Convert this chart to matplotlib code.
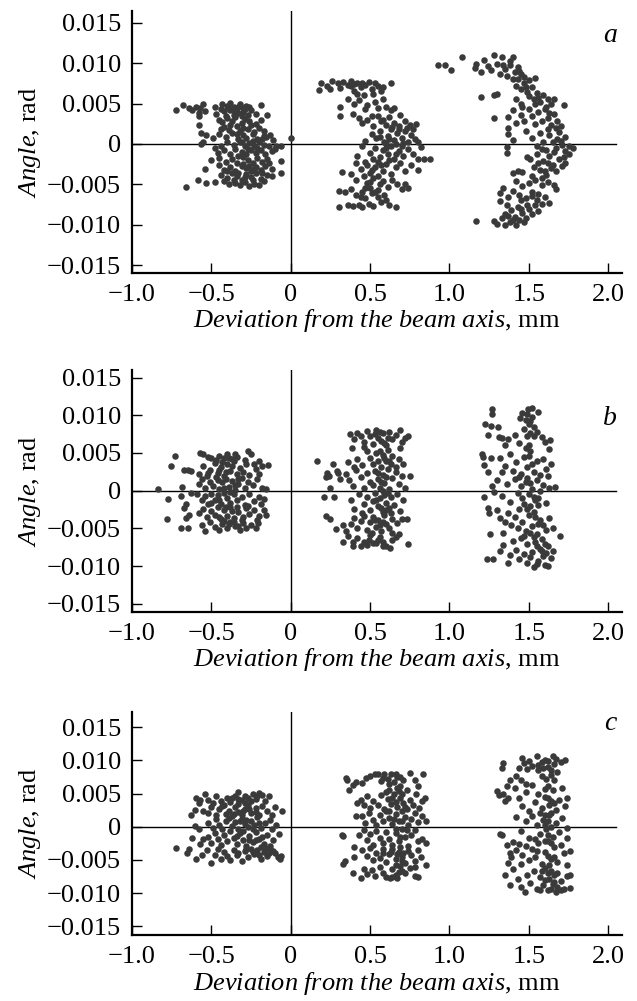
import numpy as np
import matplotlib.pyplot as plt
from matplotlib.ticker import FixedLocator, FixedFormatter

plt.rcParams['font.family'] = ['Liberation Serif', 'DejaVu Serif']
plt.rcParams['mathtext.fontset'] = 'custom'
plt.rcParams['mathtext.rm'] = 'Liberation Serif'
plt.rcParams['mathtext.it'] = 'Liberation Serif:italic'

# ===============================
# Points: (deviation mm, angle mrad)
# ===============================
# panel a
A1 = [(-0.68, 4.8), (-0.64, 4.5), (-0.595, 4.6), (-0.57, 4.4), (-0.55, 5.0), (-0.48, 4.6), (-0.43, 5.0),
      (-0.40, 4.7), (-0.385, 5.1), (-0.36, 4.6), (-0.34, 4.4), (-0.32, 4.9), (-0.30, 4.5), (-0.28, 4.7), (-0.19, 4.8),
      (-0.725, 4.2), (-0.62, 4.2), (-0.58, 3.8), (-0.54, 4.1), (-0.47, 3.7), (-0.42, 4.1), (-0.38, 4.2), (-0.35, 3.9),
      (-0.33, 3.8), (-0.30, 4.0), (-0.27, 3.6), (-0.25, 4.2), (-0.22, 3.7), (-0.15, 3.6),
      (-0.58, 3.4), (-0.45, 3.0), (-0.43, 2.7), (-0.40, 3.2), (-0.37, 2.8), (-0.35, 3.3), (-0.31, 2.6), (-0.29, 3.1),
      (-0.26, 2.8), (-0.22, 2.5), (-0.19, 3.0),
      (-0.575, 2.3), (-0.42, 2.1), (-0.39, 1.7), (-0.34, 2.2), (-0.32, 1.6), (-0.30, 2.0), (-0.27, 1.8), (-0.25, 2.3),
      (-0.23, 1.5), (-0.20, 2.0), (-0.17, 1.6),
      (-0.565, 1.3), (-0.535, 1.1), (-0.49, 0.7), (-0.45, 1.2), (-0.41, 0.9), (-0.37, 1.3), (-0.33, 0.6), (-0.30, 1.1),
      (-0.28, 0.8), (-0.24, 1.2), (-0.21, 0.6), (-0.17, 1.0), (-0.154, 0.9), (-0.13, 1.1), (-0.11, 0.5), (0.004, 0.8),
      (-0.565, 0.0), (-0.55, 0.3), (-0.44, -0.2), (-0.40, 0.2), (-0.36, -0.1), (-0.32, 0.3), (-0.29, -0.3), (-0.26, 0.1),
      (-0.23, -0.2), (-0.20, 0.2), (-0.17, -0.1), (-0.14, -0.3), (-0.09, -0.3), (-0.063, -0.2),
      (-0.46, -1.1), (-0.42, -0.7), (-0.38, -1.2), (-0.35, -0.6), (-0.31, -1.0), (-0.28, -1.3), (-0.25, -0.7),
      (-0.22, -1.1), (-0.19, -0.8), (-0.16, -1.2), (-0.12, -0.9), (-0.10, -0.6),
      (-0.50, -2.0), (-0.45, -1.7), (-0.41, -2.2), (-0.37, -1.8), (-0.34, -2.3), (-0.30, -1.6), (-0.27, -2.0),
      (-0.24, -2.4), (-0.21, -1.7), (-0.18, -2.2), (-0.15, -1.9), (-0.063, -2.1),
      (-0.54, -3.1), (-0.45, -2.6), (-0.42, -3.2), (-0.38, -2.8), (-0.35, -3.3), (-0.31, -2.7), (-0.28, -3.0),
      (-0.25, -3.4), (-0.22, -2.8), (-0.19, -3.2), (-0.16, -2.7), (-0.12, -3.1),
      (-0.585, -4.45), (-0.44, -3.8), (-0.40, -4.2), (-0.37, -3.6), (-0.34, -4.0), (-0.31, -4.4), (-0.28, -3.7),
      (-0.25, -4.1), (-0.22, -3.6), (-0.19, -4.3), (-0.15, -3.8), (-0.12, -4.0), (-0.063, -3.6),
      (-0.66, -5.3), (-0.535, -4.8), (-0.48, -4.7), (-0.42, -4.6), (-0.39, -5.0), (-0.35, -4.8), (-0.32, -5.1),
      (-0.29, -4.7), (-0.26, -5.2), (-0.23, -4.9), (-0.20, -5.1), (-0.17, -4.6),
      (-0.44, 4.3), (-0.41, 3.5), (-0.39, 4.5), (-0.36, 3.6), (-0.33, 4.6), (-0.31, 3.4), (-0.29, 4.3), (-0.26, 4.6),
      (-0.38, 2.4), (-0.34, 1.2), (-0.31, 0.2), (-0.27, -0.6), (-0.24, 0.4), (-0.21, -0.5), (-0.18, 0.6),
      (-0.33, -1.5), (-0.30, -2.5), (-0.26, -2.7), (-0.23, -3.1), (-0.33, -3.6), (-0.29, -4.1), (-0.24, -4.5),
      (-0.36, -4.4), (-0.40, -3.4), (-0.18, -3.6), (-0.14, -2.3), (-0.44, 1.8), (-0.48, -0.5)]

A2 = [(0.18, 6.7), (0.19, 7.6), (0.23, 7.2), (0.25, 6.8), (0.26, 7.8), (0.30, 7.5), (0.31, 6.9), (0.33, 7.7),
      (0.36, 7.3), (0.38, 7.8), (0.40, 6.6), (0.42, 7.6), (0.44, 7.1), (0.47, 7.3), (0.49, 7.7), (0.51, 6.8),
      (0.53, 7.5), (0.55, 7.2), (0.57, 6.6), (0.58, 7.0), (0.63, 7.6), (0.42, 6.2), (0.46, 6.0), (0.52, 6.2),
      (0.31, 4.6), (0.36, 5.6), (0.40, 5.0), (0.43, 5.4), (0.48, 4.8), (0.53, 5.2), (0.55, 4.5), (0.58, 5.6),
      (0.60, 4.6), (0.63, 4.2), (0.65, 4.5),
      (0.31, 3.4), (0.39, 3.7), (0.43, 3.2), (0.45, 2.6), (0.48, 3.0), (0.52, 2.2), (0.55, 3.5), (0.57, 2.8),
      (0.60, 2.4), (0.62, 3.3), (0.65, 2.6), (0.68, 2.2), (0.69, 3.6), (0.72, 2.8), (0.75, 2.3), (0.79, 2.5), (0.77, 1.9),
      (0.47, 0.4), (0.51, 1.2), (0.54, 0.7), (0.56, 1.6), (0.59, 0.3), (0.61, 1.0), (0.63, 1.8), (0.65, 0.5),
      (0.67, 1.3), (0.70, 0.8), (0.72, 1.6), (0.74, 0.3), (0.76, 1.1), (0.78, 0.6), (0.80, 0.2), (0.60, 0.0), (0.66, 0.0),
      (0.45, -0.3), (0.50, -1.1), (0.53, -0.5), (0.56, -1.6), (0.58, -0.8), (0.61, -1.3), (0.63, -0.3), (0.65, -1.8),
      (0.68, -0.9), (0.71, -1.5), (0.74, -0.6), (0.77, -1.2), (0.80, -1.8), (0.84, -1.9), (0.88, -1.9), (0.82, -0.4),
      (0.42, -1.5),
      (0.32, -3.5), (0.38, -3.7), (0.41, -2.4), (0.44, -3.1), (0.47, -2.2), (0.50, -3.6), (0.53, -2.8), (0.55, -2.2),
      (0.58, -3.3), (0.60, -2.5), (0.63, -3.7), (0.66, -2.9), (0.69, -2.3), (0.72, -3.4), (0.76, -2.6), (0.80, -3.2),
      (0.55, -3.9),
      (0.305, -5.8), (0.34, -5.9), (0.38, -5.6), (0.41, -4.5), (0.45, -5.9), (0.48, -4.8), (0.50, -5.4), (0.52, -4.2),
      (0.55, -5.7), (0.58, -4.6), (0.61, -5.3), (0.64, -4.4), (0.67, -5.0), (0.70, -5.6), (0.72, -4.9), (0.74, -5.5),
      (0.305, -7.8), (0.36, -7.5), (0.39, -7.7), (0.41, -6.3), (0.43, -7.6), (0.45, -7.8), (0.47, -6.7), (0.49, -7.4),
      (0.51, -6.1), (0.52, -7.7), (0.55, -6.6), (0.57, -7.2), (0.59, -6.3), (0.62, -7.5), (0.66, -7.8), (0.60, -6.9),
      (0.56, 0.9), (0.62, 0.6), (0.68, 1.8), (0.71, 0.1), (0.73, 2.0), (0.64, 2.1), (0.60, -0.5), (0.66, -1.3),
      (0.70, -0.3), (0.52, -1.8), (0.48, -2.6), (0.51, -3.2), (0.57, -2.6), (0.62, -2.0), (0.46, -4.0), (0.50, -4.7),
      (0.56, -5.0), (0.47, -5.4), (0.44, -6.5), (0.53, -6.0), (0.58, 3.0), (0.51, 3.4), (0.47, 4.3), (0.38, 7.2),
      (0.45, 7.6), (0.40, 7.4)]

A3 = [(0.93, 9.8), (0.97, 9.8), (1.01, 9.1), (1.08, 10.8), (1.16, 9.35), (1.17, 9.9), (1.20, 8.9), (1.22, 10.4),
      (1.24, 9.6), (1.26, 9.2), (1.28, 11.0), (1.30, 9.9), (1.32, 8.7), (1.33, 10.8), (1.35, 9.3), (1.36, 8.4),
      (1.38, 9.8), (1.40, 10.8), (1.41, 8.9), (1.43, 9.5), (1.45, 8.6), (1.47, 8.3), (1.40, 8.0), (1.43, 8.0),
      (1.20, 5.8), (1.28, 6.0), (1.30, 6.2), (1.42, 7.2), (1.45, 6.8), (1.47, 7.5), (1.49, 6.4), (1.50, 5.9),
      (1.52, 7.0), (1.53, 5.6), (1.55, 6.3), (1.42, 5.5), (1.45, 5.0), (1.57, 5.2), (1.59, 6.0), (1.62, 5.5),
      (1.64, 4.9), (1.66, 5.6), (1.72, 4.8), (1.50, 7.9), (1.54, 8.1),
      (1.28, 3.2), (1.37, 3.3), (1.40, 4.2), (1.42, 2.6), (1.45, 3.6), (1.47, 2.9), (1.50, 4.3), (1.52, 3.4),
      (1.54, 2.5), (1.56, 3.9), (1.58, 2.8), (1.60, 4.3), (1.62, 3.2), (1.64, 2.4), (1.66, 3.7), (1.68, 2.9),
      (1.70, 2.2), (1.37, 2.0),
      (1.36, -0.33), (1.37, 1.2), (1.40, 0.5), (1.48, 1.6), (1.52, 0.8), (1.55, -0.2), (1.57, 1.4), (1.59, 0.3),
      (1.61, -0.8), (1.63, 1.1), (1.65, 0.2), (1.67, -0.5), (1.69, 1.5), (1.71, -0.1), (1.73, 0.9), (1.75, -0.3),
      (1.78, -0.5), (1.62, 1.9), (1.58, -0.6), (1.68, 0.6),
      (1.36, -1.15), (1.40, -3.6), (1.43, -3.3), (1.46, -3.5), (1.49, -1.6), (1.51, -1.9), (1.53, -2.8), (1.55, -1.3),
      (1.57, -3.2), (1.59, -2.1), (1.61, -3.8), (1.63, -1.5), (1.65, -2.6), (1.67, -3.3), (1.69, -1.8), (1.71, -2.7),
      (1.73, -2.4), (1.75, -1.2), (1.56, -2.4), (1.64, -3.0),
      (1.32, -6.1), (1.34, -5.5), (1.37, -6.5), (1.40, -5.8), (1.42, -4.6), (1.44, -6.3), (1.46, -5.2), (1.48, -6.7),
      (1.50, -4.8), (1.52, -5.9), (1.54, -4.4), (1.56, -6.2), (1.58, -5.1), (1.60, -6.6), (1.62, -4.7), (1.63, -7.3),
      (1.66, -5.1), (1.67, -5.6), (1.55, -6.9), (1.45, -6.9),
      (1.17, -9.5), (1.28, -9.5), (1.30, -9.9), (1.33, -9.2), (1.35, -8.6), (1.36, -7.6), (1.38, -9.6), (1.39, -8.2),
      (1.41, -9.0), (1.42, -10.0), (1.43, -7.8), (1.44, -9.4), (1.46, -8.5), (1.48, -9.1), (1.50, -8.0), (1.52, -8.7),
      (1.54, -7.6), (1.56, -8.3), (1.58, -7.4), (1.32, -7.1), (1.35, -10.0),
      (1.34, 9.8), (1.38, 10.3), (1.44, 9.0), (1.48, 7.0), (1.56, 5.7), (1.61, 4.6), (1.63, 3.8), (1.67, 2.0),
      (1.70, 0.4), (1.66, -1.0), (1.72, -1.6), (1.60, -3.3), (1.62, -2.4), (1.58, -4.2), (1.52, -6.4), (1.49, -7.5),
      (1.45, -8.0), (1.40, -9.4), (1.37, -8.9), (1.47, -9.7), (1.52, -4.0), (1.46, 4.6), (1.54, 4.9), (1.73, -0.9)]

# panel b
B1 = [(-0.835, 0.2), (-0.78, -3.8), (-0.77, -1.15), (-0.755, 3.3), (-0.73, 4.6), (-0.69, -4.9), (-0.69, -0.7),
      (-0.685, 0.45), (-0.67, 2.8), (-0.65, 2.7), (-0.63, 2.6), (-0.67, -2.3), (-0.65, -4.9), (-0.627, -0.27),
      (-0.66, -3.6), (-0.64, -3.2), (-0.66, -1.7),
      (-0.574, 5.0), (-0.55, 4.8), (-0.52, 4.5), (-0.50, 4.3), (-0.45, 4.6), (-0.42, 4.4), (-0.40, 4.9), (-0.37, 4.2),
      (-0.35, 4.9), (-0.27, 5.2), (-0.25, 4.8), (-0.29, 4.1), (-0.20, 3.9), (-0.23, 3.5), (-0.143, 3.4),
      (-0.58, 2.2), (-0.55, 3.3), (-0.53, 1.9), (-0.51, 2.8), (-0.48, 3.7), (-0.46, 2.3), (-0.44, 3.1), (-0.42, 2.0),
      (-0.40, 3.5), (-0.38, 2.6), (-0.36, 3.9), (-0.34, 2.2), (-0.32, 3.0), (-0.30, 2.5), (-0.28, 3.6), (-0.26, 2.1),
      (-0.22, 2.9), (-0.20, 2.2), (-0.18, 3.3),
      (-0.58, 0.9), (-0.56, 1.6), (-0.54, 0.3), (-0.51, 1.2), (-0.49, 0.6), (-0.47, 1.8), (-0.45, 0.2), (-0.43, 1.1),
      (-0.41, 1.6), (-0.39, 0.5), (-0.37, 1.3), (-0.35, 0.1), (-0.33, 0.9), (-0.31, 1.7), (-0.29, 0.4), (-0.27, 1.2),
      (-0.24, 0.7), (-0.21, 1.5), (-0.18, 0.3), (-0.154, 0.2),
      (-0.59, -0.5), (-0.56, -1.3), (-0.54, -0.7), (-0.52, -1.8), (-0.50, -0.4), (-0.48, -1.2), (-0.46, -0.6),
      (-0.44, -1.7), (-0.42, -0.3), (-0.40, -1.0), (-0.38, -1.6), (-0.36, -0.5), (-0.34, -1.3), (-0.31, -0.8),
      (-0.29, -1.9), (-0.26, -0.4), (-0.23, -1.4), (-0.20, -0.9), (-0.17, -1.1), (-0.19, -1.8),
      (-0.58, -3.0), (-0.55, -2.4), (-0.53, -3.5), (-0.50, -2.7), (-0.48, -3.2), (-0.46, -2.2), (-0.44, -3.8),
      (-0.42, -2.6), (-0.40, -3.3), (-0.38, -2.1), (-0.36, -3.6), (-0.33, -2.8), (-0.31, -3.9), (-0.28, -2.3),
      (-0.26, -3.1), (-0.23, -2.6), (-0.20, -3.4), (-0.17, -2.5), (-0.154, -3.2), (-0.21, -3.9),
      (-0.56, -4.5), (-0.54, -5.3), (-0.51, -4.2), (-0.48, -4.8), (-0.45, -5.2), (-0.43, -4.4), (-0.40, -4.9),
      (-0.38, -4.1), (-0.35, -4.7), (-0.32, -5.2), (-0.30, -4.3), (-0.28, -5.0), (-0.25, -4.6), (-0.22, -5.0),
      (-0.206, -4.3), (-0.42, -4.0),
      (-0.47, 4.1), (-0.43, 3.8), (-0.39, 4.3), (-0.34, 4.5), (-0.45, 2.8), (-0.41, 2.5), (-0.37, 3.3), (-0.33, 1.5),
      (-0.46, 1.4), (-0.42, 0.3), (-0.38, -0.2), (-0.35, 0.8), (-0.45, -1.3), (-0.41, -2.1), (-0.37, -2.7),
      (-0.34, -2.2), (-0.45, -3.5), (-0.39, -4.4), (-0.36, -4.2), (-0.33, -4.7), (-0.30, -3.5), (-0.27, -2.0),
      (-0.50, -1.6), (-0.52, 2.4)]

B2 = [(0.166, 4.0), (0.208, -0.9), (0.225, -3.4), (0.25, -3.7), (0.23, 2.4), (0.22, 1.8), (0.24, 2.0), (0.267, 3.6),
      (0.246, 0.3), (0.288, -5.1), (0.33, -6.8), (0.33, -4.6), (0.27, -0.9), (0.30, 2.3), (0.31, 1.6), (0.29, 2.6),
      (0.372, 7.5), (0.383, 5.6), (0.40, 6.9), (0.42, 7.7), (0.44, 7.2), (0.46, 6.5), (0.48, 7.9), (0.50, 7.3),
      (0.52, 6.2), (0.54, 8.05), (0.55, 7.0), (0.57, 6.6), (0.58, 7.6), (0.60, 6.0), (0.62, 7.8), (0.64, 6.8),
      (0.66, 7.4), (0.688, 8.05), (0.70, 6.4), (0.74, 7.3), (0.72, 7.0),
      (0.36, 3.8), (0.42, 4.2), (0.45, 3.4), (0.48, 5.3), (0.50, 4.4), (0.52, 3.6), (0.54, 5.0), (0.55, 4.0),
      (0.57, 3.2), (0.58, 4.7), (0.60, 3.9), (0.61, 5.4), (0.63, 3.5), (0.64, 4.6), (0.66, 3.1), (0.68, 4.2),
      (0.71, 3.6), (0.69, 5.6), (0.46, 5.8), (0.40, 3.2),
      (0.35, 2.2), (0.37, 1.4), (0.39, 0.6), (0.41, 2.7), (0.44, 1.8), (0.46, 0.3), (0.48, 2.3), (0.50, 1.2),
      (0.52, 0.7), (0.53, 2.6), (0.55, 1.6), (0.56, 0.4), (0.58, 2.1), (0.59, 1.0), (0.61, 2.9), (0.62, 0.2),
      (0.64, 1.7), (0.66, 2.5), (0.68, 0.9), (0.70, 1.9), (0.75, 1.9), (0.72, 0.3),
      (0.38, -1.2), (0.40, -2.4), (0.43, -0.5), (0.46, -1.8), (0.48, -0.8), (0.50, -2.6), (0.52, -1.4), (0.53, -0.3),
      (0.55, -2.0), (0.56, -1.0), (0.58, -2.8), (0.59, -0.6), (0.60, -1.6), (0.62, -2.3), (0.63, -0.9), (0.65, -1.9),
      (0.67, -0.4), (0.69, -2.7), (0.71, -1.2), (0.45, -2.9),
      (0.38, -4.4), (0.40, -3.6), (0.42, -5.0), (0.44, -4.0), (0.46, -3.3), (0.48, -5.2), (0.50, -4.2), (0.52, -3.5),
      (0.54, -4.8), (0.55, -3.9), (0.57, -5.3), (0.59, -3.2), (0.60, -4.4), (0.62, -5.0), (0.64, -3.7), (0.67, -4.3),
      (0.70, -3.8), (0.73, -3.7), (0.35, -5.3),
      (0.36, -6.0), (0.393, -6.8), (0.39, -7.4), (0.42, -6.3), (0.44, -7.4), (0.46, -6.8), (0.48, -7.2), (0.50, -5.9),
      (0.52, -6.9), (0.54, -7.0), (0.56, -6.2), (0.58, -6.8), (0.60, -7.3), (0.625, -7.65), (0.64, -6.6),
      (0.66, -6.1), (0.74, -7.1), (0.68, -5.8),
      (0.53, 7.5), (0.56, 7.8), (0.59, 6.3), (0.61, 7.0), (0.56, 5.2), (0.59, 4.4), (0.62, 4.0), (0.55, 2.4),
      (0.57, 1.2), (0.60, 1.8), (0.58, 0.0), (0.61, -0.3), (0.54, -1.3), (0.57, -2.3), (0.60, -2.6), (0.53, -3.9),
      (0.56, -4.6), (0.58, -4.1), (0.51, -5.6), (0.55, -6.6), (0.58, -7.4), (0.63, -2.9), (0.64, -5.6), (0.49, -6.6)]

B3 = [(1.203, 4.9), (1.21, 4.5), (1.22, 3.4), (1.24, 2.5), (1.22, -0.8), (1.24, -2.3), (1.25, -3.0), (1.255, -5.75),
      (1.235, -9.0), (1.277, -9.1), (1.266, 10.9), (1.27, 10.2), (1.224, 8.8), (1.26, 8.6), (1.308, 8.5), (1.24, 7.4),
      (1.31, 7.1), (1.33, 7.0), (1.26, 4.3), (1.27, 0.6), (1.28, -0.2),
      (1.445, 9.7), (1.46, 10.3), (1.497, 10.9), (1.517, 11.0), (1.56, 10.5), (1.48, 9.4), (1.50, 8.9), (1.52, 9.8),
      (1.47, 8.2), (1.51, 7.6), (1.53, 8.4), (1.55, 7.8), (1.49, 7.3), (1.58, 7.1), (1.41, 7.4), (1.37, 6.8),
      (1.60, 6.5), (1.634, 6.7), (1.63, 5.5), (1.44, 6.3), (1.50, 6.0), (1.35, 6.0),
      (1.32, 4.4), (1.35, 3.3), (1.38, 4.8), (1.40, 2.6), (1.42, 3.8), (1.45, 2.2), (1.47, 4.5), (1.49, 3.1),
      (1.51, 5.2), (1.53, 2.5), (1.55, 3.9), (1.57, 2.1), (1.59, 4.2), (1.61, 2.9), (1.64, 3.6), (1.62, 1.9),
      (1.33, 2.5),
      (1.30, 1.4), (1.33, -0.7), (1.36, 0.9), (1.38, -1.5), (1.41, 1.6), (1.43, -0.3), (1.45, 0.6), (1.47, -1.8),
      (1.48, 1.2), (1.50, -0.5), (1.52, 0.2), (1.54, -1.2), (1.55, 1.4), (1.57, -0.1), (1.59, 0.8), (1.61, -1.6),
      (1.63, 0.4), (1.666, 0.5), (1.46, -1.0), (1.56, -1.9),
      (1.30, -2.6), (1.32, -3.6), (1.35, -4.2), (1.37, -3.0), (1.39, -4.6), (1.41, -3.5), (1.43, -5.0), (1.44, -2.4),
      (1.46, -4.1), (1.48, -5.4), (1.50, -3.2), (1.52, -4.7), (1.53, -2.8), (1.55, -5.8), (1.57, -3.9), (1.59, -4.5),
      (1.61, -5.2), (1.63, -3.6), (1.65, -4.9), (1.697, -6.0), (1.34, -5.6),
      (1.37, -9.6), (1.32, -8.0), (1.34, -7.2), (1.38, -8.5), (1.40, -6.7), (1.42, -7.9), (1.44, -9.0), (1.45, -6.3),
      (1.47, -8.4), (1.487, -9.65), (1.49, -7.1), (1.51, -8.8), (1.53, -10.1), (1.54, -6.8), (1.56, -9.3),
      (1.57, -7.7), (1.59, -8.6), (1.60, -9.9), (1.62, -10.0), (1.62, -7.4), (1.64, -8.9), (1.65, -8.0), (1.58, -6.4),
      (1.49, 10.2), (1.51, 9.3), (1.53, 7.2), (1.48, 5.6), (1.50, 4.6), (1.52, 3.6), (1.49, 1.7), (1.51, 1.0),
      (1.53, -0.9), (1.49, -2.4), (1.51, -2.0), (1.54, -3.5), (1.56, -4.4), (1.51, -5.6), (1.53, -6.2), (1.55, -7.3),
      (1.52, -8.1), (1.58, -8.0), (1.60, -7.1), (1.61, -8.3), (1.55, -9.7), (1.47, -6.0), (1.56, -1.0), (1.44, 1.8)]

# panel c
C1 = [(-0.725, -3.2), (-0.654, -3.9), (-0.64, -3.3), (-0.63, 1.7), (-0.62, -1.65), (-0.605, 0.1), (-0.595, 4.4),
      (-0.58, 3.5), (-0.57, 4.0), (-0.543, 4.9), (-0.595, -4.9), (-0.56, -4.3), (-0.60, 2.5), (-0.58, -0.4),
      (-0.57, -2.6), (-0.55, -1.8), (-0.55, 2.4),
      (-0.52, 4.0), (-0.49, 3.6), (-0.47, 4.6), (-0.44, 3.9), (-0.42, 3.3), (-0.40, 4.4), (-0.38, 3.7), (-0.35, 4.7),
      (-0.33, 5.3), (-0.31, 4.0), (-0.29, 3.5), (-0.27, 4.3), (-0.24, 5.0), (-0.22, 4.2), (-0.20, 5.1), (-0.18, 4.8),
      (-0.16, 3.9), (-0.14, 4.6),
      (-0.52, 2.0), (-0.50, 2.9), (-0.47, 1.7), (-0.45, 2.6), (-0.43, 3.1), (-0.41, 1.9), (-0.39, 2.4), (-0.37, 1.6),
      (-0.35, 3.0), (-0.33, 2.2), (-0.31, 1.8), (-0.29, 2.7), (-0.27, 3.2), (-0.25, 2.0), (-0.22, 2.8), (-0.20, 1.7),
      (-0.18, 3.1), (-0.15, 2.4), (-0.12, 1.7), (-0.053, 2.4), (-0.10, 2.9),
      (-0.52, 0.6), (-0.49, -0.2), (-0.47, 1.1), (-0.45, 0.3), (-0.43, -0.4), (-0.41, 0.8), (-0.39, 1.3), (-0.37, 0.1),
      (-0.35, 0.7), (-0.33, -0.3), (-0.31, 1.2), (-0.29, 0.4), (-0.27, -0.1), (-0.25, 0.9), (-0.23, 0.3), (-0.21, 1.4),
      (-0.19, -0.2), (-0.16, 0.6), (-0.13, 1.0), (-0.09, 0.3), (-0.12, -0.4),
      (-0.52, -1.5), (-0.50, -2.5), (-0.48, -0.9), (-0.46, -1.9), (-0.44, -2.8), (-0.42, -1.2), (-0.40, -2.2),
      (-0.38, -0.7), (-0.36, -1.7), (-0.34, -2.6), (-0.32, -1.0), (-0.30, -2.0), (-0.28, -2.9), (-0.26, -1.4),
      (-0.24, -2.3), (-0.22, -0.8), (-0.20, -1.8), (-0.17, -2.6), (-0.15, -1.2), (-0.11, -2.0), (-0.074, -1.15),
      (-0.13, -2.9),
      (-0.53, -3.5), (-0.50, -5.4), (-0.48, -4.2), (-0.46, -3.3), (-0.44, -4.8), (-0.42, -3.8), (-0.40, -4.4),
      (-0.38, -5.0), (-0.36, -3.5), (-0.34, -4.3), (-0.31, -5.1), (-0.29, -3.7), (-0.27, -4.6), (-0.25, -3.3),
      (-0.23, -4.1), (-0.21, -3.5), (-0.19, -4.9), (-0.17, -3.8), (-0.15, -4.4), (-0.13, -3.4), (-0.10, -4.0),
      (-0.07, -4.9), (-0.08, -4.6), (-0.06, -4.4), (-0.11, -3.7),
      (-0.37, 4.3), (-0.33, 4.1), (-0.29, 4.6), (-0.25, 3.8), (-0.21, 4.6), (-0.33, 3.4), (-0.30, 2.4), (-0.26, 2.6),
      (-0.22, 2.2), (-0.36, 1.9), (-0.32, 0.9), (-0.28, 1.0), (-0.24, -0.3), (-0.20, 0.5), (-0.34, -1.4),
      (-0.30, -0.6), (-0.26, -2.0), (-0.22, -2.0), (-0.19, -3.1), (-0.24, -3.8), (-0.20, -4.3), (-0.16, -3.2),
      (-0.33, -3.9), (-0.28, -3.3), (-0.14, -3.9), (-0.18, -1.5)]

C2 = [(0.32, -1.25), (0.33, -1.4), (0.33, -5.6), (0.34, -5.2), (0.347, 7.4), (0.355, 7.0), (0.37, 5.5), (0.39, 6.3),
      (0.41, 6.8), (0.393, -6.9), (0.44, -7.7), (0.40, -4.6), (0.42, 3.5), (0.41, 1.6), (0.43, -1.2), (0.40, -3.0),
      (0.45, 6.6), (0.477, 7.3), (0.50, 7.6), (0.53, 8.0), (0.55, 7.9), (0.57, 6.9), (0.59, 7.9), (0.61, 7.2),
      (0.63, 7.9), (0.65, 6.8), (0.667, 7.5), (0.69, 6.1), (0.71, 7.0), (0.75, 8.1), (0.78, 7.0), (0.80, 6.2),
      (0.835, 8.0), (0.73, 5.6), (0.62, 5.6), (0.67, 5.9),
      (0.44, 4.0), (0.46, 3.2), (0.48, 4.7), (0.50, 2.8), (0.52, 3.9), (0.55, 3.2), (0.57, 4.8), (0.59, 2.7),
      (0.61, 4.1), (0.63, 3.4), (0.65, 5.0), (0.67, 2.9), (0.69, 4.3), (0.71, 3.6), (0.73, 2.6), (0.75, 4.0),
      (0.77, 3.3), (0.79, 4.9), (0.81, 2.8), (0.845, 4.4), (0.83, 3.8),
      (0.45, 1.6), (0.47, 0.6), (0.49, 2.1), (0.52, 1.0), (0.54, 0.3), (0.56, 1.8), (0.58, 0.8), (0.60, 2.3),
      (0.62, 1.3), (0.64, 0.4), (0.66, 1.9), (0.68, 0.9), (0.70, 2.4), (0.72, 1.5), (0.74, 0.2), (0.76, 1.2),
      (0.78, 2.0), (0.80, 0.7), (0.83, 1.6), (0.85, 0.9),
      (0.46, -0.5), (0.48, -2.0), (0.50, -1.1), (0.52, -2.7), (0.54, -0.6), (0.56, -1.7), (0.58, -2.5), (0.60, -0.8),
      (0.62, -1.9), (0.64, -2.8), (0.66, -1.0), (0.68, -2.2), (0.70, -0.4), (0.72, -1.6), (0.74, -2.9), (0.76, -1.3),
      (0.78, -0.5), (0.80, -2.1), (0.83, -1.8), (0.85, -2.4),
      (0.45, -3.5), (0.48, -4.4), (0.50, -3.2), (0.52, -5.0), (0.54, -3.9), (0.56, -4.7), (0.58, -3.4), (0.60, -5.3),
      (0.62, -4.1), (0.64, -3.3), (0.66, -4.9), (0.68, -3.8), (0.70, -4.5), (0.72, -5.5), (0.74, -3.6), (0.76, -4.2),
      (0.78, -5.1), (0.80, -3.5), (0.85, -5.7), (0.82, -4.6),
      (0.46, -6.3), (0.48, -7.1), (0.51, -6.5), (0.53, -7.4), (0.56, -6.0), (0.58, -6.9), (0.60, -7.5), (0.625, -7.7),
      (0.64, -6.4), (0.66, -7.2), (0.67, -7.7), (0.70, -6.6), (0.72, -7.0), (0.75, -6.2), (0.782, -7.4), (0.80, -7.6),
      (0.78, -6.0), (0.69, -5.9),
      (0.58, 7.3), (0.62, 6.5), (0.66, 7.9), (0.69, 7.5), (0.60, 5.3), (0.64, 4.4), (0.68, 5.4), (0.70, 4.9),
      (0.66, 3.7), (0.72, 3.0), (0.62, 2.3), (0.65, 1.1), (0.70, 0.8), (0.73, -0.5), (0.66, -0.3), (0.69, -1.5),
      (0.63, -3.8), (0.67, -4.1), (0.69, -3.1), (0.71, -4.0), (0.66, -5.7), (0.70, -5.2), (0.64, -7.6), (0.68, -6.8),
      (0.58, -4.0)]

C3 = [(1.318, -1.05), (1.33, -1.2), (1.34, 9.6), (1.33, 8.8), (1.298, 5.4), (1.31, 4.8), (1.34, 5.0), (1.36, 6.1),
      (1.37, 4.4), (1.35, 3.8), (1.38, 7.0), (1.35, -7.2), (1.38, -8.7), (1.37, -5.4), (1.38, -3.9), (1.36, -2.8),
      (1.39, -4.6),
      (1.455, 10.4), (1.47, 9.6), (1.49, 8.7), (1.50, 9.9), (1.52, 9.2), (1.55, 10.6), (1.56, 8.5), (1.58, 9.7),
      (1.60, 10.1), (1.62, 9.0), (1.655, 10.6), (1.66, 9.4), (1.68, 8.3), (1.70, 9.8), (1.729, 10.1), (1.64, 7.8),
      (1.61, 7.2), (1.58, 7.6), (1.66, 7.1), (1.44, 8.9), (1.42, 7.6), (1.45, 7.1),
      (1.41, 5.8), (1.44, 4.3), (1.46, 3.1), (1.48, 5.2), (1.50, 2.4), (1.52, 6.3), (1.54, 3.7), (1.56, 5.0),
      (1.58, 2.8), (1.60, 4.5), (1.62, 6.1), (1.63, 3.3), (1.65, 5.5), (1.67, 2.5), (1.69, 4.0), (1.71, 5.8),
      (1.74, 4.4), (1.73, 3.1), (1.48, 6.5), (1.57, 2.1), (1.64, 2.1),
      (1.42, 1.4), (1.45, -0.6), (1.48, 0.9), (1.50, -1.7), (1.52, 1.6), (1.55, 0.2), (1.57, -1.1), (1.59, 1.0),
      (1.61, -0.4), (1.63, 1.8), (1.65, -1.5), (1.67, 0.5), (1.69, -0.8), (1.71, 1.3), (1.74, -1.65), (1.74, -0.2),
      (1.60, 0.3), (1.54, -1.9),
      (1.40, -2.3), (1.42, -3.5), (1.44, -2.6), (1.46, -4.2), (1.48, -2.9), (1.50, -5.0), (1.52, -3.3), (1.54, -4.6),
      (1.56, -2.4), (1.58, -5.6), (1.60, -3.8), (1.62, -2.2), (1.64, -4.9), (1.66, -3.1), (1.68, -5.3), (1.70, -2.7),
      (1.72, -4.0), (1.74, -5.7), (1.76, -3.6), (1.45, -5.6), (1.55, -3.7),
      (1.40, -6.4), (1.43, -7.8), (1.45, -9.0), (1.476, -9.9), (1.49, -7.2), (1.51, -8.4), (1.53, -6.6), (1.55, -9.3),
      (1.57, -7.6), (1.59, -8.8), (1.60, -6.2), (1.62, -9.6), (1.63, -7.9), (1.65, -8.6), (1.67, -9.8), (1.68, -6.9),
      (1.70, -8.1), (1.72, -9.4), (1.74, -7.4), (1.76, -9.2), (1.76, -7.2), (1.66, -7.3), (1.58, -6.6),
      (1.56, 9.3), (1.59, 8.8), (1.62, 9.9), (1.64, 8.6), (1.67, 10.2), (1.60, 5.7), (1.62, 4.3), (1.64, 3.9),
      (1.66, 3.5), (1.60, 1.8), (1.62, 0.8), (1.64, 0.0), (1.62, -1.3), (1.60, -2.2), (1.64, -2.4), (1.62, -4.4),
      (1.66, -4.6), (1.63, -5.7), (1.64, -6.6), (1.62, -7.0), (1.60, -8.0), (1.66, -8.3), (1.68, -9.1), (1.64, -9.4),
      (1.70, -9.6), (1.57, -9.6)]

PANELS = [
    ('a', [A1, A2, A3], [0.2072, 0.7273, 0.7688, 0.2617], (-0.01595, 0.01644), 0.965),
    ('b', [B1, B2, B3], [0.2072, 0.3889, 0.7688, 0.2415], (-0.01605, 0.01601), 0.5824),
    ('c', [C1, C2, C3], [0.2072, 0.0656, 0.7688, 0.2231], (-0.01635, 0.01727), 0.2777),
]

x_ticks = [-1.0, -0.5, 0, 0.5, 1.0, 1.5, 2.0]
x_labels = ['\u22121.0', '\u22120.5', '0', '0.5', '1.0', '1.5', '2.0']
y_ticks = [0.015, 0.010, 0.005, 0, -0.005, -0.010, -0.015]
y_labels = ['0.015', '0.010', '0.005', '0', '\u22120.005', '\u22120.010', '\u22120.015']

DOT = '#3a3a3a'
FS = 19

fig = plt.figure(figsize=(6.37, 10.01), dpi=100)

for letter, clusters, rect, ylim, ly in PANELS:
    ax = fig.add_axes(rect)
    for pts in clusters:
        pts = np.array(pts)
        ax.scatter(pts[:, 0], pts[:, 1] * 1e-3, s=22, color=DOT, linewidths=0, zorder=3)

    ax.axvline(0, color='black', lw=1.0, zorder=2)
    ax.plot([-1.0, 2.05], [0, 0], color='black', lw=1.0, zorder=2)

    ax.set_xlim(-1.0, 2.085)
    ax.set_ylim(*ylim)
    for side in ('top', 'right'):
        ax.spines[side].set_visible(False)
    for side in ('left', 'bottom'):
        ax.spines[side].set_linewidth(1.6)

    ax.xaxis.set_major_locator(FixedLocator(x_ticks))
    ax.xaxis.set_major_formatter(FixedFormatter(x_labels))
    ax.yaxis.set_major_locator(FixedLocator(y_ticks))
    ax.yaxis.set_major_formatter(FixedFormatter(y_labels))
    ax.tick_params(direction='in', length=7, width=1.0, labelsize=FS)
    ax.tick_params(axis='y', pad=8)
    ax.tick_params(axis='x', pad=8)

    ax.set_xlabel(r'$\mathit{Deviation\ from\ the\ beam\ axis}$, mm', fontsize=FS, labelpad=1)
    ax.set_ylabel(r'$\mathit{Angle}$, rad', fontsize=FS, labelpad=3)

    fig.text(0.9576, ly, letter, fontsize=FS + 1, style='italic', ha='center', va='center')

fig.savefig('out.png', dpi=100)
